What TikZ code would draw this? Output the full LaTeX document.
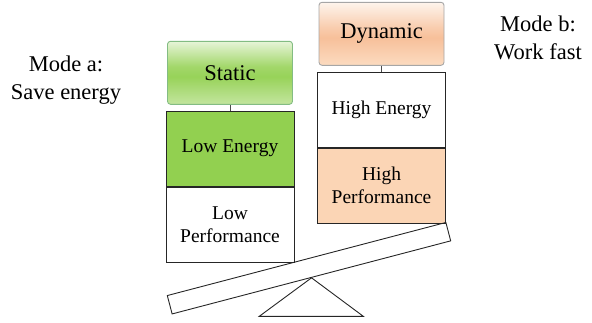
\documentclass[tikz,border=0pt]{standalone}
\usepackage{fontspec}
\setmainfont{Liberation Serif}
\usetikzlibrary{positioning}

\definecolor{lowgreen}{HTML}{92D050}
\definecolor{peach}{HTML}{FBD5B5}
\definecolor{peachdeep}{HTML}{F7C09A}

% office-like bands: light top, strong middle, lighter bottom
\pgfdeclareverticalshading{greenband}{100bp}{%
  color(0bp)=(lowgreen!55!white); color(25bp)=(lowgreen!55!white);
  color(47bp)=(lowgreen!95!white); color(55bp)=(lowgreen!85!white);
  color(75bp)=(lowgreen!22!white); color(100bp)=(lowgreen!22!white)}
\pgfdeclareverticalshading{peachband}{100bp}{%
  color(0bp)=(peach!85!white); color(25bp)=(peach!85!white);
  color(47bp)=(peachdeep); color(55bp)=(peachdeep!80!white);
  color(75bp)=(peach!25!white); color(100bp)=(peach!25!white)}

\begin{document}
\begin{tikzpicture}[x=1pt, y=-1pt, node distance=6pt,
    box/.style={draw=black!85, line width=0.9pt, minimum width=128pt, minimum height=75pt,
                inner sep=0pt, align=center, font=\fontsize{19.5}{23}\selectfont},
    modebox/.style={rounded corners=3pt, line width=0.9pt, minimum width=125pt, minimum height=63pt,
                inner sep=0pt, font=\fontsize{22.5}{27}\selectfont},
    staticbox/.style={modebox, draw=green!30!gray!75, shading=greenband},
    dynbox/.style={modebox, draw=gray!70, shading=peachband},
    modelabel/.style={align=center, inner sep=0pt, font=\fontsize{22.5}{28}\selectfont},
    link/.style={draw=black!70, line width=0.6pt}]
    \useasboundingbox (0,0) rectangle (592,322);

    % Define nodes
    \node[staticbox] (static) at (230,72.8) {Static};
    \node[box, fill=lowgreen, below=6pt of static] (lowE) {Low Energy};
    \node[box, below=0pt of lowE] (lowP) {Low\\Performance};

    \node[dynbox] (dyn) at (381.5,33.8) {Dynamic};
    \node[box, below=6pt of dyn] (highE) {High Energy};
    \node[box, fill=peach, below=0pt of highE] (highP) {High\\Performance};

    \node[modelabel] (modeA) at (66,80) {Mode a:\\Save energy};
    \node[modelabel] (modeB) at (538,38) {Mode b:\\Work fast};

    % Seesaw
    \node[draw=black!85, line width=0.9pt, minimum width=288pt, minimum height=19pt,
          inner sep=0pt, rotate=14.7] (beam) at (309,268.2) {};
    \coordinate (baseL) at (259.3,316.3);
    \coordinate (baseR) at (363.3,316.3);

    \draw[link] (static) -- (lowE);
    \draw[link] (dyn) -- (highE);

    \draw[black!85, line width=0.9pt] (beam.south) -- (baseL) -- (baseR) -- cycle;

\end{tikzpicture}
\end{document}
